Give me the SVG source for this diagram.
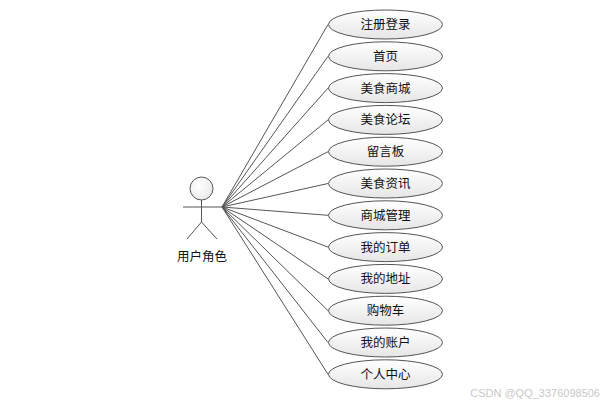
<svg xmlns="http://www.w3.org/2000/svg" width="616" height="405" viewBox="0 0 616 405">
<defs>
<linearGradient id="g" x1="0" y1="0" x2="0" y2="1">
<stop offset="0" stop-color="#ffffff"/>
<stop offset="1" stop-color="#e6e6e6"/>
</linearGradient>
<radialGradient id="hg" cx="0.4" cy="0.4" r="0.7">
<stop offset="0" stop-color="#ffffff"/>
<stop offset="1" stop-color="#e8e8e8"/>
</radialGradient>
</defs>
<style>
.uc ellipse{fill:url(#g);stroke:#555;stroke-width:1}
.uc text{font-family:"Noto Sans CJK SC","Liberation Sans",sans-serif;font-size:12.5px;fill:#111;text-anchor:middle}
.edge line{stroke:#555;stroke-width:1}
.actor{stroke:#555;stroke-width:1;fill:none}
.lbl{font-family:"Noto Sans CJK SC","Liberation Sans",sans-serif;font-size:12.5px;fill:#111;text-anchor:middle}
</style>
<rect width="616" height="405" fill="#fff"/>
<g id="connectors" class="edge">
<line x1="222" y1="207" x2="328" y2="24.5"/>
<line x1="222" y1="207" x2="328" y2="56.3"/>
<line x1="222" y1="207" x2="328" y2="88.1"/>
<line x1="222" y1="207" x2="328" y2="119.9"/>
<line x1="222" y1="207" x2="328" y2="151.7"/>
<line x1="222" y1="207" x2="328" y2="183.5"/>
<line x1="222" y1="207" x2="328" y2="215.3"/>
<line x1="222" y1="207" x2="328" y2="247.1"/>
<line x1="222" y1="207" x2="328" y2="278.9"/>
<line x1="222" y1="207" x2="328" y2="310.7"/>
<line x1="222" y1="207" x2="328" y2="342.5"/>
<line x1="222" y1="207" x2="328" y2="374.3"/>
</g>
<g id="actor">
<circle cx="201.5" cy="188.5" r="11.5" fill="url(#hg)" stroke="#555"/>
<line class="actor" x1="201.5" y1="200" x2="201.5" y2="222"/>
<line class="actor" x1="183" y1="207" x2="222" y2="207"/>
<line class="actor" x1="201.5" y1="222" x2="187" y2="239"/>
<line class="actor" x1="201.5" y1="222" x2="217" y2="239"/>
<text class="lbl" x="202" y="261">用户角色</text>
</g>
<g id="uc1" class="uc"><ellipse cx="385.5" cy="24.5" rx="57" ry="14.5"/><text x="385.5" y="29">注册登录</text></g>
<g id="uc2" class="uc"><ellipse cx="385.5" cy="56.3" rx="57" ry="14.5"/><text x="385.5" y="60.8">首页</text></g>
<g id="uc3" class="uc"><ellipse cx="385.5" cy="88.1" rx="57" ry="14.5"/><text x="385.5" y="92.6">美食商城</text></g>
<g id="uc4" class="uc"><ellipse cx="385.5" cy="119.9" rx="57" ry="14.5"/><text x="385.5" y="124.4">美食论坛</text></g>
<g id="uc5" class="uc"><ellipse cx="385.5" cy="151.7" rx="57" ry="14.5"/><text x="385.5" y="156.2">留言板</text></g>
<g id="uc6" class="uc"><ellipse cx="385.5" cy="183.5" rx="57" ry="14.5"/><text x="385.5" y="188">美食资讯</text></g>
<g id="uc7" class="uc"><ellipse cx="385.5" cy="215.3" rx="57" ry="14.5"/><text x="385.5" y="219.8">商城管理</text></g>
<g id="uc8" class="uc"><ellipse cx="385.5" cy="247.1" rx="57" ry="14.5"/><text x="385.5" y="251.6">我的订单</text></g>
<g id="uc9" class="uc"><ellipse cx="385.5" cy="278.9" rx="57" ry="14.5"/><text x="385.5" y="283.4">我的地址</text></g>
<g id="uc10" class="uc"><ellipse cx="385.5" cy="310.7" rx="57" ry="14.5"/><text x="385.5" y="315.2">购物车</text></g>
<g id="uc11" class="uc"><ellipse cx="385.5" cy="342.5" rx="57" ry="14.5"/><text x="385.5" y="347">我的账户</text></g>
<g id="uc12" class="uc"><ellipse cx="385.5" cy="374.3" rx="57" ry="14.5"/><text x="385.5" y="378.8">个人中心</text></g>
<text x="600" y="397" font-family="'Liberation Sans',sans-serif" font-size="11" fill="#c8c8c8" text-anchor="end">CSDN @QQ_3376098506</text>
</svg>
